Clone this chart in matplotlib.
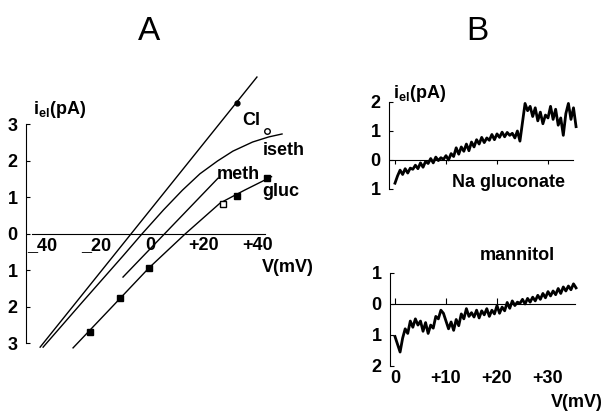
import matplotlib
matplotlib.use('Agg')
import numpy as np
import matplotlib.pyplot as plt

plt.rcParams['font.family'] = ['Liberation Sans', 'DejaVu Sans']
plt.rcParams['mathtext.default'] = 'regular'

# ---- panel A: I-V relations (mV, pA) ----
cl_v = [-40.7, 39.6]
cl_i = [-3.1, 4.3]
cl_pts_v = [32.3]
cl_pts_i = [3.6]

iseth_v = [-39.6, -25, -10, -3, 5, 12, 18.5, 25, 30.7, 38, 44, 48.9]
iseth_i = [-3.1, -1.86, -0.6, 0, 0.66, 1.2, 1.65, 2.0, 2.27, 2.52, 2.66, 2.74]
iseth_pts_v = [43.2]
iseth_pts_i = [2.82]

meth_v = [-10, 25.2]
meth_i = [-1.18, 1.53]

gluc_v = [-28.5, -15, -0.4, 13.0, 26, 35, 45]
gluc_i = [-3.12, -2.07, -0.93, 0, 0.85, 1.2, 1.57]
gluc_pts_v = [-22.2, -11.1, -0.4, 32.3, 43.3]
gluc_pts_i = [-2.68, -1.75, -0.93, 1.04, 1.53]
gluc_open_v = [27]
gluc_open_i = [0.82]

a_yticks = [-3, -2, -1, 0, 1, 2, 3]
a_ylabels = ['3', '2', '1', '0', '1', '2', '3']
a_xticks = [-40, -20, 0, 20, 40]
a_xlabels = ['_40', '_20', '0', '+20', '+40']

# ---- panel B: ramp recordings, 0.5 mV sampling ----
ramp_v = np.arange(0, 36, 0.5)
gluconate_i = [-0.80, -0.55, -0.35, -0.50, -0.30, -0.45, -0.28, -0.32, -0.18, -0.30,
               -0.10, -0.25, -0.05, -0.12, 0.05, -0.10, 0.10, -0.02, 0.08, 0.02,
               0.15, 0.00, 0.22, 0.12, 0.42, 0.20, 0.45, 0.30, 0.55, 0.32,
               0.62, 0.45, 0.70, 0.55, 0.78, 0.60, 0.76, 0.68, 0.88, 0.70,
               0.90, 0.78, 0.96, 0.80, 0.95, 0.85, 0.92, 0.76, 1.00, 0.65,
               1.30, 1.95, 1.70, 1.85, 1.50, 1.80, 1.35, 1.65, 1.25, 1.55,
               1.45, 1.85, 1.40, 1.75, 1.20, 1.45, 0.85, 1.60, 1.95, 1.40,
               1.80, 1.15]
mannitol_i = [-1.05, -1.30, -1.55, -1.10, -0.80, -0.95, -0.55, -0.75, -0.48, -0.68,
              -0.55, -0.88, -0.60, -0.95, -0.68, -0.78, -0.40, -0.48, -0.20, -0.30,
              -0.55, -0.80, -0.58, -0.85, -0.50, -0.70, -0.32, -0.48, -0.15, -0.40,
              -0.28, -0.42, -0.20, -0.45, -0.22, -0.35, -0.15, -0.40, -0.20, -0.32,
              -0.05, -0.30, -0.10, -0.22, 0.05, -0.14, 0.10, -0.05, 0.06, 0.02,
              0.15, 0.00, 0.18, 0.06, 0.22, 0.10, 0.28, 0.15, 0.34, 0.20,
              0.40, 0.26, 0.42, 0.30, 0.50, 0.34, 0.55, 0.42, 0.58, 0.46,
              0.65, 0.52]
b_xticks = [0, 10, 20, 30]
b_xlabels = ['0', '+10', '+20', '+30']
b1_yticks = [-1, 0, 1, 2]
b1_ylabels = ['1', '0', '1', '2']
b2_yticks = [-2, -1, 0, 1]
b2_ylabels = ['2', '1', '0', '1']

W, H = 604, 412
fig = plt.figure(figsize=(W / 100, H / 100), dpi=100)


def box(x0, y0, x1, y1):
    # pixel box (top-left origin) -> figure fraction
    return [x0 / W, (H - y1) / H, (x1 - x0) / W, (y1 - y0) / H]


def style(ax, yspine_x, ybounds, xbounds):
    for s in ['top', 'right']:
        ax.spines[s].set_visible(False)
    ax.spines['left'].set_position(('data', yspine_x))
    ax.spines['left'].set_bounds(*ybounds)
    ax.spines['bottom'].set_position(('data', 0))
    ax.spines['bottom'].set_bounds(*xbounds)
    ax.patch.set_alpha(0)


lab = dict(fontsize=13, fontweight='bold', color='k')

# panel A
ax = fig.add_axes(box(0, 60, 320, 380))
ax.set_xlim(-55.56, 62.96)
ax.set_ylim(-4.0, 4.767)
style(ax, -45.9, (-3, 3), (-43.7, 42.6))
ax.plot(cl_v, cl_i, c='k', lw=1)
ax.plot(cl_pts_v, cl_pts_i, 'o', c='k', ms=3.5)
ax.plot(iseth_v, iseth_i, c='k', lw=1)
ax.plot(iseth_pts_v, iseth_pts_i, 'o', mfc='w', mec='k', ms=4, mew=1)
ax.plot(meth_v, meth_i, c='k', lw=1)
ax.plot(gluc_v, gluc_i, c='k', lw=1)
ax.plot(gluc_pts_v, gluc_pts_i, 's', c='k', ms=4)
ax.plot(gluc_open_v, gluc_open_i, 's', mfc='w', mec='k', ms=4, mew=1)
ax.set_yticks(a_yticks, a_ylabels, **lab)
ax.set_xticks(a_xticks, a_xlabels, **lab)
ax.tick_params(axis='y', direction='in', length=3, pad=6)
ax.tick_params(axis='x', length=0, pad=2)
ax.text(34, 3.12, 'Cl', va='center', **lab)
ax.text(41.9, 2.3, 'iseth', va='center', **lab)
ax.text(24.7, 1.62, 'meth', va='center', **lab)
ax.text(41.4, 1.16, 'gluc', va='center', **lab)
ax.text(41.5, -0.93, 'V(mV)', va='center', **lab)
ax.text(-43.3, 3.4, 'i$_{el}$(pA)', va='center', **lab)
fig.text(149 / W, 1 - 32 / H, 'A', fontsize=24, ha='center', va='center')

# panel B top: Na gluconate
ax1 = fig.add_axes(box(360, 75, 604, 205))
ax1.set_xlim(-6.86, 40.98)
ax1.set_ylim(-1.552, 2.931)
style(ax1, -1.18, (-1, 2), (-1, 34.9))
ax1.plot(ramp_v, gluconate_i, c='k', lw=2)
ax1.set_yticks(b1_yticks, b1_ylabels, **lab)
ax1.set_xticks(b_xticks, [])
ax1.tick_params(axis='y', direction='in', length=3, pad=6)
ax1.tick_params(axis='x', direction='out', length=3)
ax1.text(22.2, -0.79, 'Na gluconate', ha='center', va='center', **lab)
ax1.text(-0.4, 2.31, 'i$_{el}$(pA)', va='center', **lab)
fig.text(477 / W, 1 - 31 / H, 'B', fontsize=24, ha='center', va='center')

# panel B bottom: mannitol
ax2 = fig.add_axes(box(360, 245, 604, 412))
ax2.set_xlim(-6.86, 40.98)
ax2.set_ylim(-3.484, 1.903)
style(ax2, -0.98, (-2, 1), (-0.6, 35.3))
ax2.plot(ramp_v, mannitol_i, c='k', lw=2)
ax2.set_yticks(b2_yticks, b2_ylabels, **lab)
ax2.set_xticks(b_xticks[:3], [])
ax2.tick_params(axis='y', direction='in', length=3, pad=6)
ax2.tick_params(axis='x', direction='in', length=4)
for v, t in zip(b_xticks, b_xlabels):
    ax2.text(v, -2.39, t, ha='center', va='center', **lab)
ax2.text(23.9, 1.58, 'mannitol', ha='center', va='center', **lab)
ax2.text(40.7, -3.19, 'V(mV)', ha='right', va='center', **lab)

fig.savefig('out.png', dpi=100)
